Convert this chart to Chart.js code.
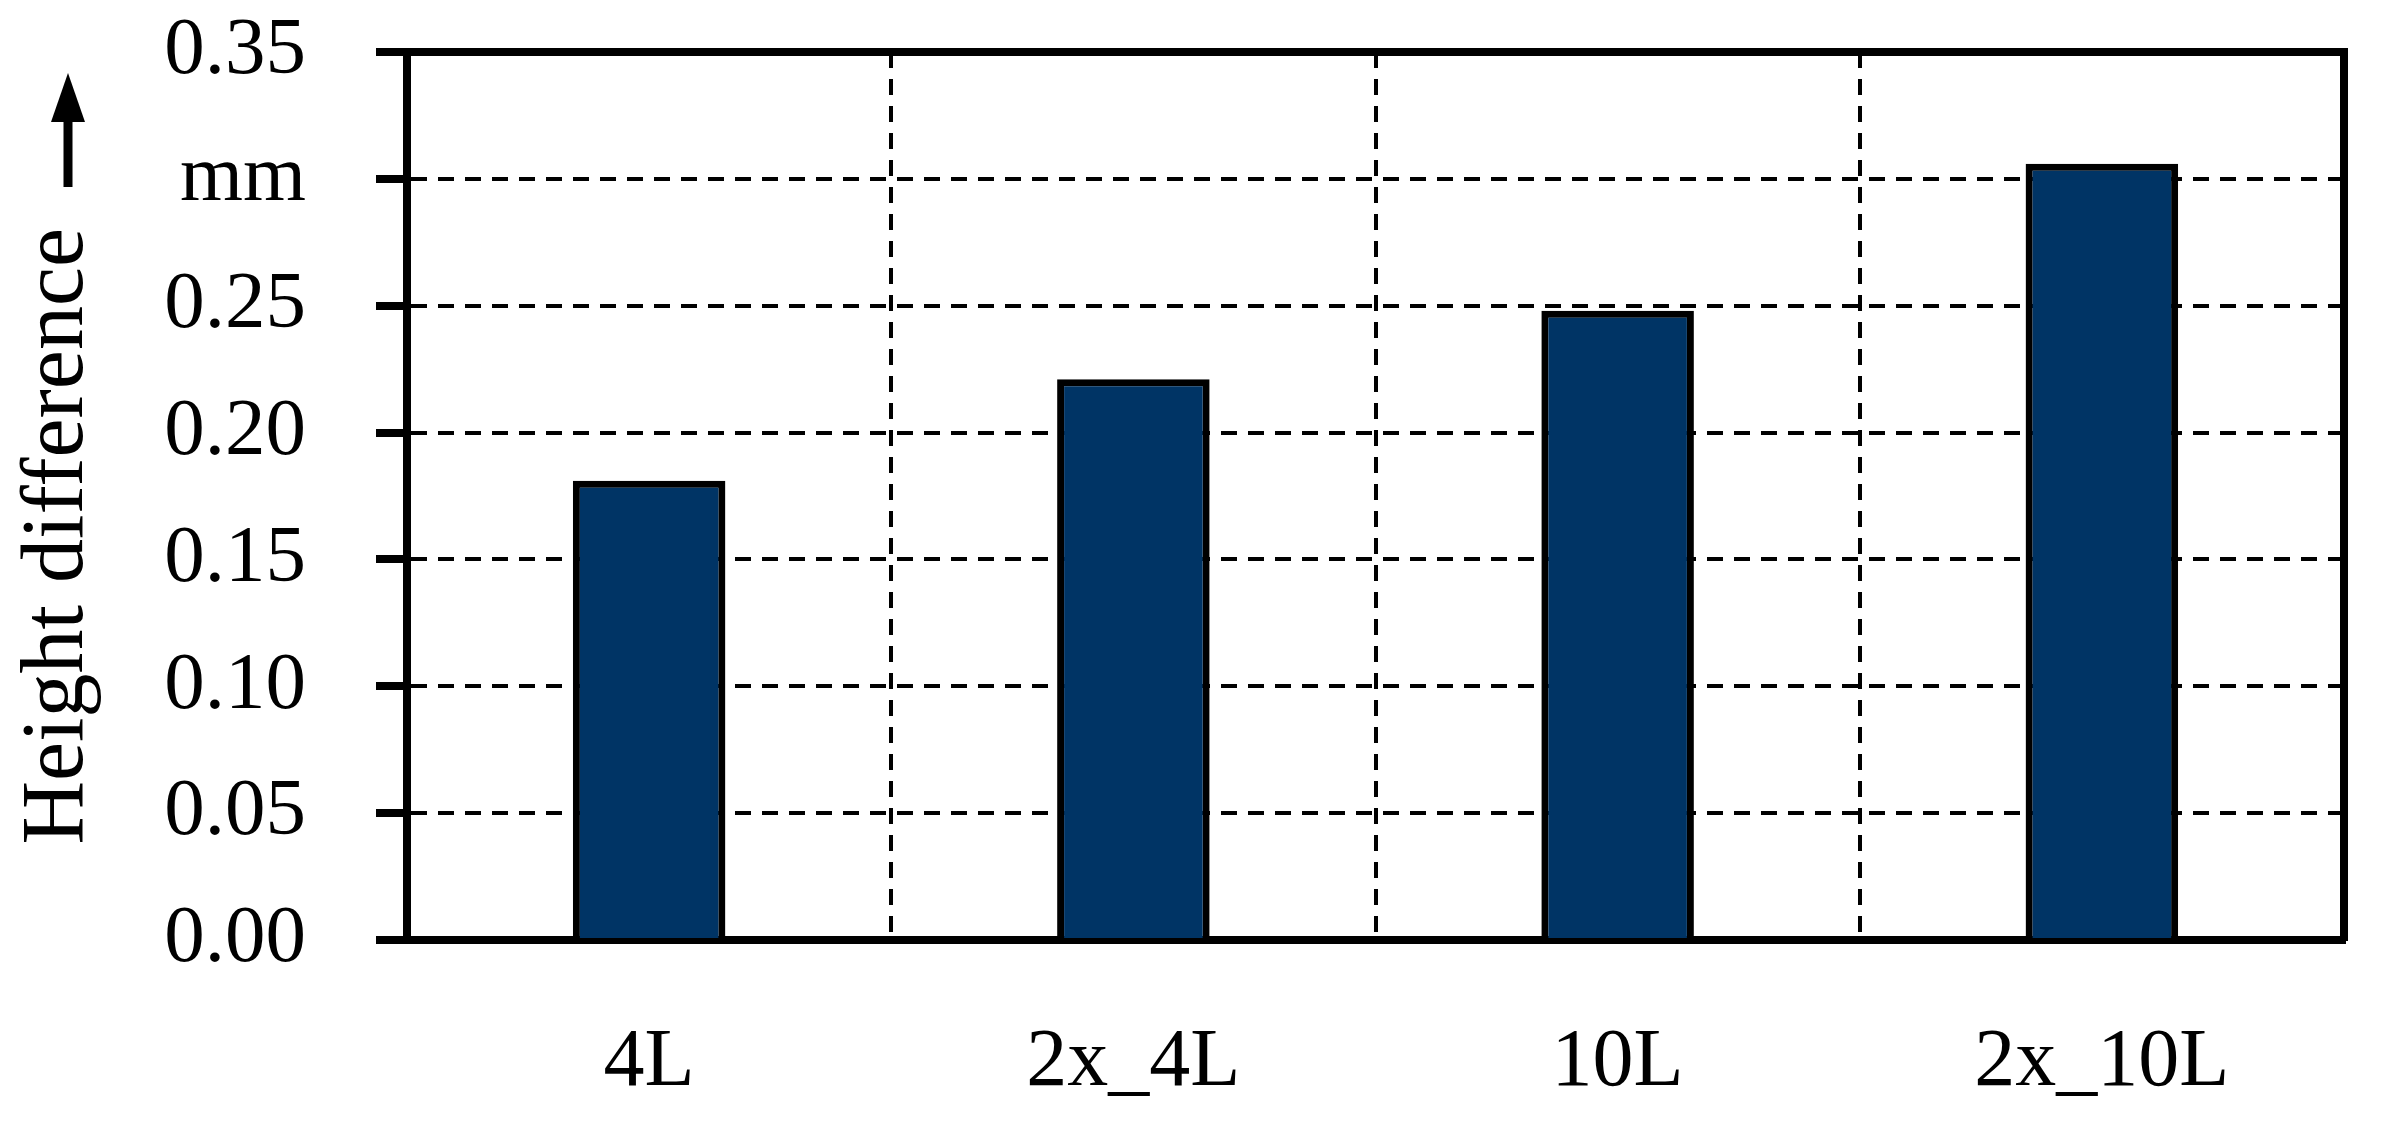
<!DOCTYPE html>
<html>
<head>
<meta charset="utf-8">
<script src="https://cdn.jsdelivr.net/npm/chart.js@4.4.0/dist/chart.umd.min.js"></script>
<style>
  html, body { margin: 0; padding: 0; background: #ffffff; }
  canvas { display: block; }
</style>
</head>
<body>
<canvas id="myChart" width="2384" height="1125"></canvas>
<script>
// data
const categories = ['4L', '2x_4L', '10L', '2x_10L'];
const heightDiff = [0.181, 0.221, 0.248, 0.306];
// y tick labels, bottom to top (the 0.30 slot carries the unit)
const yTickLabels = ['0.00', '0.05', '0.10', '0.15', '0.20', '0.25', 'mm', '0.35'];

const serif = 'Liberation Serif';

// the upward arrow that follows the y title
const axisArrow = {
  id: 'axisArrow',
  afterDraw(chart) {
    const c = chart.ctx;
    const top = chart.chartArea.top;
    const x = 68;
    const tip = top + 21;
    const headEnd = tip + 49;
    const tail = top + 135;
    c.save();
    c.fillStyle = '#000000';
    c.fillRect(x - 4.5, headEnd - 2, 9, tail - headEnd + 2);
    c.beginPath();
    c.moveTo(x, tip);
    c.lineTo(x - 17, headEnd);
    c.lineTo(x + 17, headEnd);
    c.closePath();
    c.fill();
    c.restore();
  }
};

const ctx = document.getElementById('myChart');

new Chart(ctx, {
  type: 'bar',
  data: {
    labels: categories,
    datasets: [
      {
        label: 'Height difference',
        data: heightDiff,
        backgroundColor: '#003465',
        borderColor: '#000000',
        borderWidth: 7,
        categoryPercentage: 1.0,
        barPercentage: 0.315
      }
    ]
  },
  options: {
    responsive: false,
    animation: false,
    layout: {
      padding: { top: 52, right: 40, bottom: 0, left: 0 }
    },
    plugins: {
      legend: { display: false },
      tooltip: { enabled: false }
    },
    scales: {
      x: {
        offset: true,
        grid: {
          offset: true,
          drawTicks: false,
          color: '#000000',
          lineWidth: 4
        },
        border: { display: true, color: '#000000', width: 8, dash: [16, 11] },
        ticks: {
          color: '#000000',
          padding: 74,
          font: { family: serif, size: 82 }
        },
        afterFit: scale => {
          scale.height = 185;
          scale.paddingLeft = 0;
          scale.paddingRight = 0;
        }
      },
      y: {
        min: 0,
        max: 0.35,
        grid: {
          color: '#000000',
          lineWidth: 4,
          tickColor: '#000000',
          tickWidth: 8,
          tickLength: 31
        },
        border: { display: true, color: '#000000', width: 8, dash: [16, 11] },
        ticks: {
          stepSize: 0.05,
          color: '#000000',
          padding: 70,
          font: { family: serif, size: 81 },
          callback: (value, index) => yTickLabels[index]
        },
        title: {
          display: true,
          text: 'Height difference        ',
          color: '#000000',
          align: 'end',
          padding: { top: 6, bottom: 0 },
          font: { family: serif, size: 88 }
        },
        afterFit: scale => {
          scale.width = 407;
          scale.paddingTop = 0;
          scale.paddingBottom = 0;
        }
      },
      // closing lines for the frame on top and right
      xTop: {
        position: 'top',
        grid: { display: false },
        ticks: { display: false },
        border: { display: true, color: '#000000', width: 8 },
        afterFit: scale => { scale.height = 0; }
      },
      yRight: {
        position: 'right',
        grid: { display: false },
        ticks: { display: false },
        border: { display: true, color: '#000000', width: 8 },
        afterFit: scale => { scale.width = 0; }
      }
    }
  },
  plugins: [axisArrow]
});
</script>
</body>
</html>
